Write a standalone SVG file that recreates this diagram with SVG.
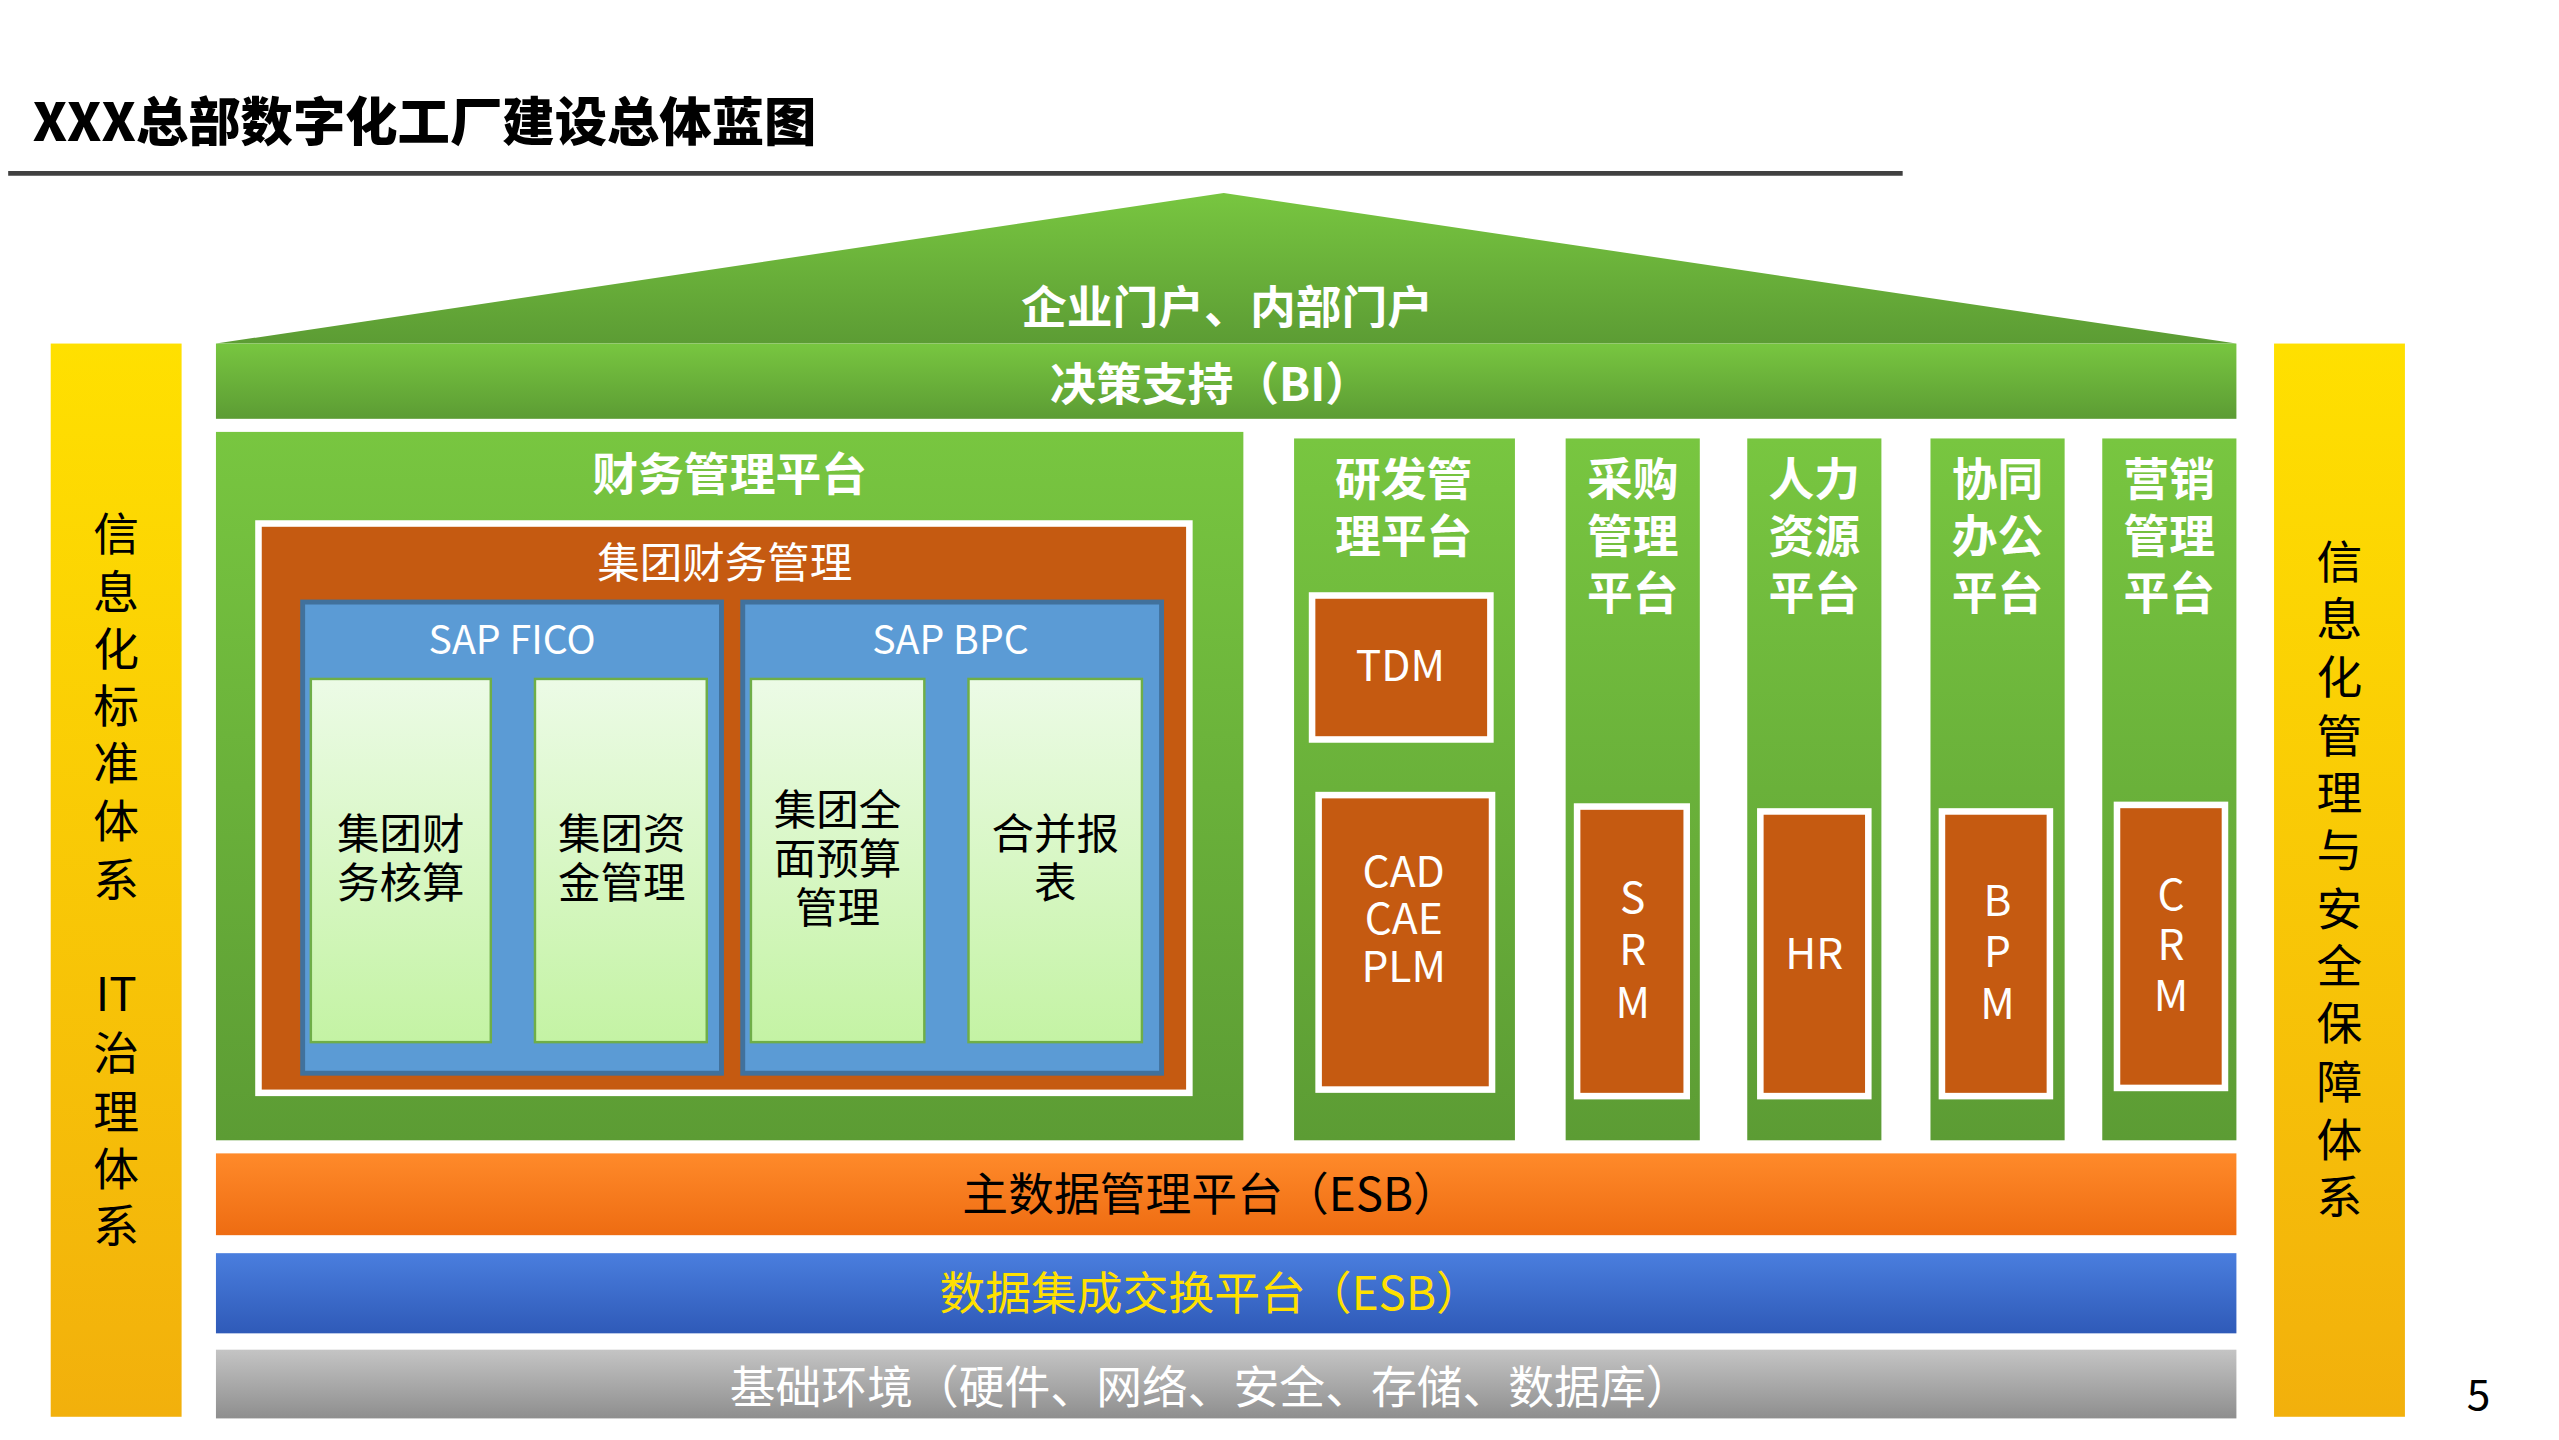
<svg xmlns="http://www.w3.org/2000/svg" width="2559" height="1440" viewBox="0 0 2559 1440">
<defs>
<linearGradient id="gG" x1="0" y1="0" x2="0" y2="1"><stop offset="0" stop-color="#78c640"/><stop offset="1" stop-color="#5c9c34"/></linearGradient>
<linearGradient id="gY" x1="0" y1="0" x2="0" y2="1"><stop offset="0" stop-color="#ffe000"/><stop offset="1" stop-color="#f2b00c"/></linearGradient>
<linearGradient id="gL" x1="0" y1="0" x2="0" y2="1"><stop offset="0" stop-color="#ecfbe6"/><stop offset="1" stop-color="#c4f3a4"/></linearGradient>
<linearGradient id="gO" x1="0" y1="0" x2="0" y2="1"><stop offset="0" stop-color="#ff8a2a"/><stop offset="1" stop-color="#ee6c12"/></linearGradient>
<linearGradient id="gB" x1="0" y1="0" x2="0" y2="1"><stop offset="0" stop-color="#4a7ede"/><stop offset="1" stop-color="#2f5ab8"/></linearGradient>
<linearGradient id="gS" x1="0" y1="0" x2="0" y2="1"><stop offset="0" stop-color="#c4c4c4"/><stop offset="1" stop-color="#8e8e8e"/></linearGradient>
</defs>
<style>
text{font-family:"Noto Sans CJK SC","Noto Sans",sans-serif;text-anchor:middle}
.w{fill:#fff}.b{font-weight:bold}
.or{fill:#c55a11;stroke:#fff;stroke-width:4}
.lg{fill:url(#gL);stroke:#6fae48;stroke-width:1.5}
.bl{fill:#5b9bd5;stroke:#41719c;stroke-width:3}
</style>
<rect width="2559" height="1440" fill="#fff"/>
<g transform="scale(1.636)">
<text x="20" y="86" style="text-anchor:start" font-size="32" font-weight="900">XXX总部数字化工厂建设总体蓝图</text>
<line x1="5" y1="106" x2="1163" y2="106" stroke="#404040" stroke-width="3"/>
<g id="roof"><polygon points="132,210 748,118 1367,210" fill="url(#gG)"/><text x="750" y="198" font-size="28" class="w b">企业门户、内部门户</text></g>
<g id="bi"><rect x="132" y="210" width="1235" height="46" fill="url(#gG)"/><text x="740" y="245" font-size="28" class="w b">决策支持（BI）</text></g>
<g id="leftbar"><rect x="31" y="210" width="80" height="656" fill="url(#gY)"/>
<g font-size="28"><text x="71" y="337">信</text><text x="71" y="372">息</text><text x="71" y="407">化</text><text x="71" y="442">标</text><text x="71" y="477">准</text><text x="71" y="512">体</text><text x="71" y="548">系</text><text x="71" y="618">IT</text><text x="71" y="654">治</text><text x="71" y="690">理</text><text x="71" y="725">体</text><text x="71" y="760">系</text></g></g>
<g id="rightbar"><rect x="1390" y="210" width="80" height="656" fill="url(#gY)"/>
<g font-size="28"><text x="1430" y="354">信</text><text x="1430" y="389">息</text><text x="1430" y="424">化</text><text x="1430" y="460">管</text><text x="1430" y="495">理</text><text x="1430" y="530">与</text><text x="1430" y="566">安</text><text x="1430" y="601">全</text><text x="1430" y="636">保</text><text x="1430" y="672">障</text><text x="1430" y="707">体</text><text x="1430" y="742">系</text></g></g>
<g id="finance"><rect x="132" y="264" width="628" height="433" fill="url(#gG)"/><text x="446" y="300" font-size="28" class="w b">财务管理平台</text>
<rect x="158" y="320" width="569" height="348" class="or"/><text x="443" y="353" font-size="26" class="w">集团财务管理</text>
<rect x="185" y="368" width="256" height="288" class="bl"/><text x="313" y="400" font-size="24" class="w">SAP FICO</text>
<rect x="454" y="368" width="256" height="288" class="bl"/><text x="581" y="400" font-size="24" class="w">SAP BPC</text>
<rect x="190" y="415" width="110" height="222" class="lg"/><text x="245" y="519" font-size="26">集团财</text><text x="245" y="549" font-size="26">务核算</text>
<rect x="327" y="415" width="105" height="222" class="lg"/><text x="380" y="519" font-size="26">集团资</text><text x="380" y="549" font-size="26">金管理</text>
<rect x="459" y="415" width="106" height="222" class="lg"/><text x="512" y="504" font-size="26">集团全</text><text x="512" y="534" font-size="26">面预算</text><text x="512" y="564" font-size="26">管理</text>
<rect x="592" y="415" width="106" height="222" class="lg"/><text x="645" y="519" font-size="26">合并报</text><text x="645" y="549" font-size="26">表</text></g>
<g id="rd"><rect x="791" y="268" width="135" height="429" fill="url(#gG)"/><text x="858" y="303" font-size="28" class="w b">研发管</text><text x="858" y="338" font-size="28" class="w b">理平台</text>
<rect x="802" y="364" width="109" height="88" class="or"/><text x="856" y="416" font-size="26" class="w">TDM</text>
<rect x="806" y="486" width="106" height="180" class="or"/><text x="858" y="542" font-size="26" class="w">CAD</text><text x="858" y="571" font-size="26" class="w">CAE</text><text x="858" y="600" font-size="26" class="w">PLM</text></g>
<g id="srm"><rect x="957" y="268" width="82" height="429" fill="url(#gG)"/><text x="998" y="303" font-size="28" class="w b">采购</text><text x="998" y="338" font-size="28" class="w b">管理</text><text x="998" y="373" font-size="28" class="w b">平台</text>
<rect x="964" y="493" width="67" height="177" class="or"/><text x="998" y="558" font-size="26" class="w">S</text><text x="998" y="590" font-size="26" class="w">R</text><text x="998" y="622" font-size="26" class="w">M</text></g>
<g id="hr"><rect x="1068" y="268" width="82" height="429" fill="url(#gG)"/><text x="1109" y="303" font-size="28" class="w b">人力</text><text x="1109" y="338" font-size="28" class="w b">资源</text><text x="1109" y="373" font-size="28" class="w b">平台</text>
<rect x="1076" y="496" width="66" height="174" class="or"/><text x="1109" y="592" font-size="26" class="w">HR</text></g>
<g id="bpm"><rect x="1180" y="268" width="82" height="429" fill="url(#gG)"/><text x="1221" y="303" font-size="28" class="w b">协同</text><text x="1221" y="338" font-size="28" class="w b">办公</text><text x="1221" y="373" font-size="28" class="w b">平台</text>
<rect x="1187" y="496" width="66" height="174" class="or"/><text x="1221" y="560" font-size="26" class="w">B</text><text x="1221" y="591" font-size="26" class="w">P</text><text x="1221" y="623" font-size="26" class="w">M</text></g>
<g id="crm"><rect x="1285" y="268" width="82" height="429" fill="url(#gG)"/><text x="1326" y="303" font-size="28" class="w b">营销</text><text x="1326" y="338" font-size="28" class="w b">管理</text><text x="1326" y="373" font-size="28" class="w b">平台</text>
<rect x="1294" y="492" width="66" height="173" class="or"/><text x="1327" y="556" font-size="26" class="w">C</text><text x="1327" y="587" font-size="26" class="w">R</text><text x="1327" y="618" font-size="26" class="w">M</text></g>
<g id="mdm"><rect x="132" y="705" width="1235" height="50" fill="url(#gO)"/><text x="740" y="740" font-size="28">主数据管理平台（ESB）</text></g>
<g id="esb"><rect x="132" y="766" width="1235" height="49" fill="url(#gB)"/><text x="740" y="801" font-size="28" fill="#ffe000">数据集成交换平台（ESB）</text></g>
<g id="infra"><rect x="132" y="825" width="1235" height="42" fill="url(#gS)"/><text x="740" y="858" font-size="28" class="w">基础环境（硬件、网络、安全、存储、数据库）</text></g>
<text x="1515" y="862" font-size="26" font-family="Liberation Sans">5</text>
<g id="connectors"/>
</g>
</svg>
